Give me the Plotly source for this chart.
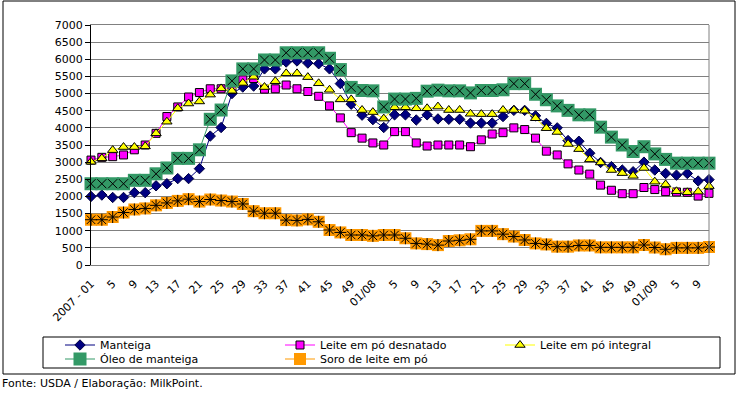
import plotly.graph_objects as go

# ---------------- data ----------------
weeks = ([f"2007-{w:02d}" for w in range(1, 52, 2)]
         + [f"2008-{w:02d}" for w in range(1, 52, 2)]
         + [f"2009-{w:02d}" for w in range(1, 12, 2)])

tick_labels = ["2007 - 01", "5", "9", "13", "17", "21", "25", "29", "33", "37", "41", "45", "49",
               "01/08", "5", "9", "13", "17", "21", "25", "29", "33", "37", "41", "45", "49",
               "01/09", "5", "9"]

manteiga = [2000, 2040, 1970, 1970, 2110, 2110, 2310, 2370, 2520, 2520, 2810, 3760, 4010, 5000,
            5190, 5220, 5720, 5720, 5920, 5950, 5890, 5870, 5720, 5290, 4690, 4370,
            4240, 4010, 4380, 4380, 4230, 4380, 4260, 4250, 4250, 4140, 4140, 4140, 4330,
            4510, 4510, 4350, 4130, 4000, 3630, 3610, 3260, 2990, 2870, 2770, 2720, 3000,
            2770, 2670, 2620, 2670, 2450, 2490]

desnatado = [3060, 3140, 3160, 3210, 3360, 3500, 3840, 4330, 4610, 4900, 5030, 5140, 5140, 5120,
             5400, 5440, 5130, 5140, 5250, 5140, 5060, 4920, 4640, 4290, 3860, 3700,
             3560, 3500, 3890, 3890, 3560, 3470, 3500, 3500, 3500, 3450, 3650, 3820, 3860,
             4000, 3950, 3700, 3320, 3210, 2950, 2770, 2650, 2330, 2180, 2080, 2080, 2260,
             2200, 2140, 2130, 2120, 2010, 2090]

integral = [3010, 3110, 3350, 3440, 3440, 3460, 3840, 4180, 4570, 4710, 4770, 4970, 5150, 5080,
            5310, 5490, 5190, 5360, 5590, 5590, 5480, 5300, 5110, 4830, 4830, 4520,
            4460, 4270, 4600, 4600, 4570, 4570, 4620, 4520, 4520, 4410, 4400, 4400, 4520,
            4520, 4500, 4280, 3990, 3880, 3530, 3380, 3080, 2990, 2770, 2680, 2600, 2830,
            2430, 2350, 2150, 2120, 2140, 2300]

oleo = [2370, 2370, 2370, 2370, 2470, 2470, 2660, 2830, 3110, 3110, 3360, 4250, 4520, 5370,
        5720, 5720, 5980, 5980, 6190, 6190, 6190, 6190, 6030, 5700, 5180, 5090,
        5080, 4610, 4840, 4840, 4860, 5070, 5100, 5080, 5080, 5020, 5090, 5090, 5110,
        5290, 5290, 4980, 4820, 4640, 4510, 4380, 4380, 4020, 3730, 3500, 3310, 3450,
        3240, 3080, 2970, 2970, 2970, 2970]

soro = [1320, 1320, 1400, 1530, 1620, 1650, 1740, 1810, 1870, 1920, 1850, 1910, 1880, 1850,
        1780, 1570, 1510, 1510, 1310, 1300, 1330, 1260, 1020, 950, 875, 875,
        850, 875, 875, 780, 630, 610, 580, 700, 720, 750, 995, 995, 900,
        830, 730, 630, 600, 535, 535, 570, 570, 515, 515, 515, 515, 583,
        510, 460, 500, 500, 500, 525]

y_ticks = list(range(0, 7001, 500))

# ---------------- geometry helpers ----------------
W, H = 737, 394
L, R, T, B = 91, 28, 25, 129
PW, PH = W - L - R, H - T - B


def px_x(px):
    return (px - L) / PW


def px_y(py):
    return (H - B - py) / PH


FONT = "DejaVu Sans"

fig = go.Figure()

fig.add_trace(go.Scatter(
    x=weeks, y=manteiga, name="Manteiga", mode="lines+markers", legend="legend",
    line=dict(color="#000080", width=1),
    marker=dict(symbol="diamond", size=8, color="#000080", line=dict(color="#000040", width=1)),
    cliponaxis=False))

fig.add_trace(go.Scatter(
    x=weeks, y=desnatado, name="Leite em pó desnatado", mode="lines+markers", legend="legend",
    line=dict(color="#FF00FF", width=1),
    marker=dict(symbol="square", size=8, color="#FF00FF", line=dict(color="black", width=1)),
    cliponaxis=False))

fig.add_trace(go.Scatter(
    x=weeks, y=integral, name="Leite em pó integral", mode="lines+markers", legend="legend",
    line=dict(color="#FFFF00", width=1),
    marker=dict(symbol="triangle-up", size=9, color="#FFFF00", line=dict(color="black", width=1)),
    cliponaxis=False))

fig.add_trace(go.Scatter(
    x=weeks, y=oleo, name="Óleo de manteiga", mode="lines+markers", legend="legend2",
    line=dict(color="#339966", width=1),
    marker=dict(symbol="square", size=13, color="#339966", line=dict(width=0)),
    cliponaxis=False))
fig.add_trace(go.Scatter(
    x=weeks, y=oleo, mode="markers", showlegend=False, hoverinfo="skip",
    marker=dict(symbol="x-thin-open", size=9, color="black", line=dict(color="black", width=1)),
    cliponaxis=False))

fig.add_trace(go.Scatter(
    x=weeks, y=soro, name="Soro de leite em pó", mode="lines+markers", legend="legend2",
    line=dict(color="#FF9900", width=1),
    marker=dict(symbol="square", size=12, color="#FF9900", line=dict(width=0)),
    cliponaxis=False))
fig.add_trace(go.Scatter(
    x=weeks, y=soro, mode="markers", showlegend=False, hoverinfo="skip",
    marker=dict(symbol="asterisk-open", size=10, color="black", line=dict(color="black", width=1)),
    cliponaxis=False))

legend_common = dict(
    orientation="h", xanchor="left", yanchor="middle",
    borderwidth=0, bgcolor="rgba(0,0,0,0)",
    font=dict(family=FONT, size=11, color="black"),
    entrywidth=175, entrywidthmode="pixels", traceorder="normal",
)

fig.update_layout(
    width=W, height=H,
    margin=dict(l=L, r=R, t=T, b=B, autoexpand=False),
    paper_bgcolor="white", plot_bgcolor="white",
    font=dict(family=FONT, size=11, color="black"),
    showlegend=True,
    legend=dict(legend_common, x=px_x(60), y=px_y(345)),
    legend2=dict(legend_common, x=px_x(60), y=px_y(359)),
    xaxis=dict(
        type="category", range=[0, len(weeks) - 1], automargin=False,
        tickmode="array", tickvals=weeks[::2], ticktext=tick_labels,
        tickangle=-45, showgrid=False, zeroline=False,
        showline=True, linecolor="#808080", linewidth=1, mirror=True,
        ticks="outside", ticklen=7, tickcolor="rgba(0,0,0,0)",
        tickfont=dict(family=FONT, size=11, color="black"),
    ),
    yaxis=dict(
        range=[0, 7000], tickmode="array", tickvals=y_ticks, automargin=False,
        showgrid=True, gridcolor="#808080", gridwidth=1, zeroline=False,
        showline=True, linecolor="black", linewidth=1,
        ticks="outside", ticklen=5, tickcolor="black",
        tickfont=dict(family=FONT, size=11, color="black"),
    ),
    shapes=[
        dict(type="line", xref="paper", yref="paper", x0=1, x1=1, y0=0, y1=1,
             line=dict(color="#808080", width=1)),
        dict(type="rect", xref="paper", yref="paper",
             x0=px_x(3), x1=px_x(735), y0=px_y(374), y1=px_y(1),
             line=dict(color="black", width=1), fillcolor="rgba(0,0,0,0)", layer="below"),
        dict(type="rect", xref="paper", yref="paper",
             x0=px_x(43), x1=px_x(720), y0=px_y(368), y1=px_y(337),
             line=dict(color="black", width=1), fillcolor="white", layer="below"),
    ],
    annotations=[
        dict(text="Fonte: USDA / Elaboração: MilkPoint.", xref="paper", yref="paper",
             x=px_x(0), y=px_y(383), xanchor="left", yanchor="middle", showarrow=False,
             font=dict(family=FONT, size=11, color="black")),
    ],
)

fig.write_html("out.html", config={"displayModeBar": False},
               post_script="document.body.style.margin='0';")
